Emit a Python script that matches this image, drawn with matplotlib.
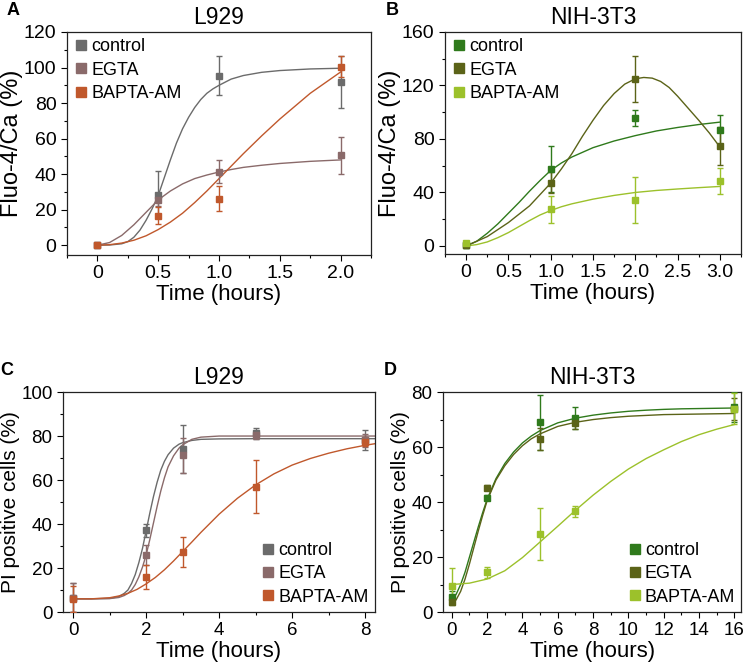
import numpy as np
import matplotlib
matplotlib.use("Agg")
import matplotlib.pyplot as plt
from matplotlib.ticker import MultipleLocator

plt.rcParams["font.family"] = ["Liberation Sans", "DejaVu Sans"]

# ---- datos ----
grupos = ["control", "EGTA", "BAPTA-AM"]
col_l929 = ["#6b6b6b", "#8a6a6a", "#c0582c"]
col_nih = ["#2f7a1c", "#5b6318", "#9cc12b"]

# A: Fluo-4/Ca L929
a_t = [0, 0.5, 1.0, 2.0]
a_val = [[0, 28.5, 95.5, 92.0], [0, 25.3, 41.4, 50.6], [0, 16.7, 26.2, 100.5]]
a_err = [[0, 13, 11, 14.6], [0, 3, 6.5, 10.5], [0, 4.7, 7, 6]]
a_fit_t = [
    [0, 0.1, 0.2, 0.25, 0.3, 0.35, 0.4, 0.45, 0.5, 0.55, 0.6, 0.65, 0.7, 0.75, 0.8, 0.85, 0.9, 0.95, 1.0, 1.1, 1.2, 1.35, 1.5, 1.75, 2.0],
    [0, 0.1, 0.2, 0.3, 0.4, 0.5, 0.6, 0.7, 0.8, 0.9, 1.0, 1.1, 1.2, 1.35, 1.5, 1.75, 2.0],
    [0, 0.1, 0.2, 0.3, 0.4, 0.5, 0.6, 0.7, 0.8, 0.9, 1.0, 1.1, 1.2, 1.35, 1.5, 1.75, 2.0],
]
a_fit = [
    [0, 0.1, 0.8, 2, 4.5, 8.5, 14, 20.5, 28, 38, 48, 57.5, 65.5, 72, 77.5, 82, 85.5, 88, 90, 93.5, 95.5, 97.3, 98.3, 99.2, 99.6],
    [0, 1.5, 5.5, 11.5, 18.5, 25.5, 30.5, 34.5, 37.5, 39.5, 41.2, 42.6, 43.8, 45.0, 46.0, 47.2, 48.0],
    [0, 0.3, 1.2, 2.8, 5.3, 8.8, 13, 18, 24, 30.5, 37.5, 44.5, 51.5, 61.5, 71, 85.5, 97.5],
]

# B: Fluo-4/Ca NIH-3T3
b_t = [0, 1.0, 2.0, 3.0]
b_val = [[0.5, 57.7, 95.6, 86.6], [1.0, 47.4, 124.8, 74.9], [2.0, 27.5, 34.4, 48.7]]
b_err = [[2, 17, 6, 11], [1, 8, 17, 14], [1, 10, 17, 9.5]]
b_fit_t = [
    [0, 0.125, 0.25, 0.375, 0.5, 0.625, 0.75, 0.875, 1.0, 1.125, 1.25, 1.5, 1.75, 2.0, 2.25, 2.5, 2.75, 3.0],
    [0, 0.25, 0.5, 0.75, 1.0, 1.125, 1.25, 1.375, 1.5, 1.625, 1.75, 1.875, 2.0, 2.1, 2.2, 2.3, 2.4, 2.5, 2.625, 2.75, 2.875, 3.0],
    [0, 0.125, 0.25, 0.375, 0.5, 0.625, 0.75, 0.875, 1.0, 1.125, 1.25, 1.5, 1.75, 2.0, 2.25, 2.5, 2.75, 3.0],
]
b_fit = [
    [0, 3.5, 9.5, 16.5, 24.5, 32.5, 41, 49, 56.5, 62, 66.5, 73.5, 78.5, 82.5, 86, 88.6, 90.8, 92.6],
    [0, 7, 17.5, 30, 47, 57.5, 69, 82, 94, 105, 114, 121, 125, 126, 125.5, 123, 118.5, 112, 103, 94, 84.5, 74],
    [0, 1, 3, 6.2, 10, 14.5, 19, 23.2, 26.5, 29.3, 31.5, 35, 37.8, 40, 41.5, 42.6, 43.6, 44.5],
]

# C: PI positivas L929
c_t = [0, 2, 3, 5, 8]
c_val = [[6.5, 37.1, 74, 81.2, 78.3], [6.5, 25.8, 71.2, 80.5, 78.0], [6.0, 15.9, 27.3, 57.0, 77.5]]
c_err = [[6.5, 3, 11, 2.5, 4.5], [6.5, 4.5, 8, 2, 3], [6, 5.5, 6.7, 12, 2]]
c_fit_t = [
    [0, 0.5, 1.0, 1.25, 1.4, 1.5, 1.6, 1.7, 1.8, 1.9, 2.0, 2.1, 2.2, 2.3, 2.4, 2.5, 2.6, 2.75, 2.9, 3.0, 3.25, 3.5, 4.0, 5.0, 6.0, 8.0, 8.3],
    [0, 0.5, 1.0, 1.25, 1.4, 1.5, 1.6, 1.7, 1.8, 1.9, 2.0, 2.1, 2.2, 2.3, 2.4, 2.5, 2.6, 2.75, 2.9, 3.0, 3.25, 3.5, 4.0, 5.0, 6.0, 8.0, 8.3],
    [0, 0.5, 1.0, 1.25, 1.5, 1.75, 2.0, 2.25, 2.5, 2.75, 3.0, 3.25, 3.5, 4.0, 4.5, 5.0, 5.5, 6.0, 6.5, 7.0, 7.5, 8.0, 8.3],
]
c_fit = [
    [6, 6, 6.2, 7, 8.5, 10, 13, 17, 22.5, 29, 37, 45, 52.5, 59, 64.5, 68.5, 71.5, 74.5, 76.3, 77, 78, 78.5, 78.7, 78.8, 78.8, 78.8, 78.8],
    [6, 6, 6.1, 6.6, 7.5, 8.5, 10, 12.5, 16, 20.5, 26, 33, 40.5, 48, 55, 61, 66, 71, 74.5, 76, 78.5, 79.5, 80, 80, 80, 80, 80],
    [6, 6, 6.5, 7.3, 8.5, 10.3, 12.8, 15.7, 19.2, 23.2, 27.5, 31.8, 36.2, 44.5, 51.7, 57.8, 62.8, 66.8, 69.8, 72.2, 74.2, 75.8, 76.6],
]

# D: PI positivas NIH-3T3
d_t = [0, 2, 5, 7, 16]
d_val = [[5.5, 41.6, 69.1, 70.4, 74.5], [3.5, 45.2, 63.0, 68.6, 74.0], [9.5, 14.5, 28.5, 36.6, 74.0]]
d_err = [[2, 1, 10, 4, 5.5], [1, 1, 4, 2, 4], [6.5, 2, 9.5, 2, 5.5]]
d_fit_t = [
    [0, 0.25, 0.5, 0.75, 1, 1.25, 1.5, 1.75, 2, 2.5, 3, 3.5, 4, 4.5, 5, 6, 7, 8, 9, 10, 11, 12, 13, 14, 15, 16],
    [0, 0.25, 0.5, 0.75, 1, 1.25, 1.5, 1.75, 2, 2.5, 3, 3.5, 4, 4.5, 5, 6, 7, 8, 9, 10, 11, 12, 13, 14, 15, 16],
    [0, 1, 2, 3, 4, 5, 6, 7, 8, 9, 10, 11, 12, 13, 14, 15, 16],
]
d_fit = [
    [4.5, 6.5, 10, 14.5, 20, 25.5, 31, 36.2, 41, 48.5, 54, 58.2, 61.5, 64, 66, 68.8, 70.5, 71.6, 72.4, 73, 73.4, 73.7, 73.9, 74.0, 74.1, 74.2],
    [3.0, 4.5, 7.5, 12, 17.5, 23.5, 29.5, 35.2, 40.5, 48, 53.2, 57.3, 60.5, 63, 64.8, 67.5, 69, 70, 70.7, 71.2, 71.5, 71.8, 71.9, 72.0, 72.1, 72.2],
    [10, 10.5, 12, 15, 19.8, 25.5, 31.2, 37, 42.5, 47.5, 52, 55.8, 59, 62, 64.5, 66.5, 68.2],
]

fig = plt.figure(figsize=(7.47, 6.68), dpi=100)

paneles = [
    dict(rect=[0.0897, 0.6183, 0.407, 0.3338], letra="A", titulo="L929", ylab="Fluo-4/Ca (%)",
         t=a_t, val=a_val, err=a_err, ft=a_fit_t, fit=a_fit, cols=col_l929,
         xlim=(-0.25, 2.25), ylim=(-5.5, 120), xmin=0.25, ymaj=20, ymin=10,
         xticks=[0, 0.5, 1.0, 1.5, 2.0], xlabs=["0", "0.5", "1.0", "1.5", "2.0"], loc="upper left", big=True),
    dict(rect=[0.5957, 0.6198, 0.3963, 0.3323], letra="B", titulo="NIH-3T3", ylab="Fluo-4/Ca (%)",
         t=b_t, val=b_val, err=b_err, ft=b_fit_t, fit=b_fit, cols=col_nih,
         xlim=(-0.25, 3.25), ylim=(-6, 160), xmin=0.25, ymaj=40, ymin=20,
         xticks=[0, 0.5, 1.0, 1.5, 2.0, 2.5, 3.0], xlabs=["0", "0.5", "1.0", "1.5", "2.0", "2.5", "3.0"], loc="upper left", big=True),
    dict(rect=[0.0843, 0.0838, 0.4177, 0.3293], letra="C", titulo="L929", ylab="PI positive cells (%)",
         t=c_t, val=c_val, err=c_err, ft=c_fit_t, fit=c_fit, cols=col_l929,
         xlim=(-0.28, 8.27), ylim=(0, 100), xmin=1, ymaj=20, ymin=10,
         xticks=[0, 2, 4, 6, 8], xlabs=["0", "2", "4", "6", "8"], loc="lower right", big=False),
    dict(rect=[0.593, 0.0838, 0.3996, 0.3293], letra="D", titulo="NIH-3T3", ylab="PI positive cells (%)",
         t=d_t, val=d_val, err=d_err, ft=d_fit_t, fit=d_fit, cols=col_nih,
         xlim=(-0.5, 16.4), ylim=(0, 80), xmin=1, ymaj=20, ymin=10,
         xticks=list(range(0, 17, 2)), xlabs=[str(v) for v in range(0, 17, 2)], loc="lower right", big=False),
]

for p in paneles:
    ax = fig.add_axes(p["rect"])
    for i, g in enumerate(grupos):
        c = p["cols"][i]
        ax.plot(p["ft"][i], p["fit"][i], color=c, lw=1.0, zorder=2)
        ax.errorbar(p["t"], p["val"][i], yerr=p["err"][i], fmt="s", color=c, ms=5,
                    elinewidth=1.0, capsize=2.5, capthick=1.0, label=g, zorder=3)
    ax.set_xlim(*p["xlim"])
    ax.set_ylim(*p["ylim"])
    ax.set_xticks(p["xticks"])
    ax.set_xticklabels(p["xlabs"])
    ax.xaxis.set_minor_locator(MultipleLocator(p["xmin"]))
    ax.yaxis.set_major_locator(MultipleLocator(p["ymaj"]))
    ax.yaxis.set_minor_locator(MultipleLocator(p["ymin"]))
    tfs = 14 if p["big"] else 13.5
    ax.tick_params(which="both", direction="out", top=False, right=False, labelsize=tfs, width=0.8)
    ax.tick_params(which="major", length=4)
    ax.tick_params(which="minor", length=2.5)
    for s in ax.spines.values():
        s.set_linewidth(0.9)
        s.set_color("#222222")
    ax.set_xlabel("Time (hours)", fontsize=16, labelpad=1)
    ax.set_ylabel(p["ylab"], fontsize=17 if p["big"] else 15, labelpad=1)
    ax.set_title(p["titulo"], fontsize=16.5, pad=6)
    ax.text(-0.2, 1.06, p["letra"], transform=ax.transAxes, fontsize=13, fontweight="bold", ha="left", va="bottom")
    h, l = ax.get_legend_handles_labels()
    h = [hh[0] for hh in h]
    ax.legend(h, l, loc=p["loc"], frameon=False, fontsize=13, handletextpad=0.1,
              handlelength=0.9, labelspacing=0.35, borderaxespad=0.15, borderpad=0.2,
              markerscale=1.4)

fig.savefig("out.png", dpi=100)
